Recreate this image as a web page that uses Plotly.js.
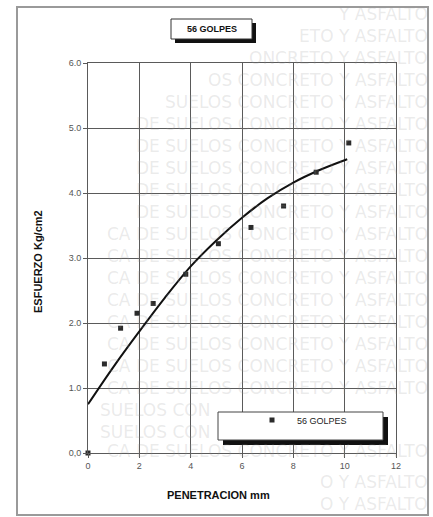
<!DOCTYPE html>
<html>
<head>
<meta charset="utf-8">
<script src="https://cdn.plot.ly/plotly-3.0.1.min.js"></script>
<style>
  html, body { margin: 0; padding: 0; background: #ffffff; }
  #chart { width: 433px; height: 517px; }
</style>
</head>
<body>
<div id="chart"></div>
<script>
// ---- data ----
const penetracion = [0, 0.64, 1.27, 1.91, 2.54, 3.81, 5.08, 6.35, 7.62, 8.89, 10.16];
const esfuerzo    = [0, 1.37, 1.92, 2.15, 2.30, 2.75, 3.22, 3.47, 3.80, 4.32, 4.77];

// trend curve as traced on the picture
const curvaX = [0, 1, 2, 3, 4, 5, 6, 7, 8, 9, 10.1];
const curvaY = [0.75, 1.33, 1.87, 2.39, 2.87, 3.27, 3.62, 3.92, 4.16, 4.35, 4.52];

const xTicks = [0, 2, 4, 6, 8, 10, 12];
const yTicks = [0, 1, 2, 3, 4, 5, 6];
const yTickText = ["0,0", "1.0", "2.0", "3.0", "4.0", "5.0", "6.0"];

const serieNombre = "56 GOLPES";
const tituloTexto = "56 GOLPES";
const ejeX = "PENETRACION mm";
const ejeY = "ESFUERZO Kg/cm2";
const marcaAgua = "MECANICA DE SUELOS CONCRETO Y ASFALTO";

// ---- layout helpers (pixel -> paper) ----
const W = 433, H = 517;
const M = { l: 88, r: 37, t: 63, b: 64 };
const PW = W - M.l - M.r, PH = H - M.t - M.b;
const px = x => (x - M.l) / PW;
const py = y => (H - M.b - y) / PH;

const FONT = "Arial, 'Liberation Sans', sans-serif";

const traces = [
  {
    x: curvaX, y: curvaY, type: "scatter", mode: "lines",
    line: { color: "#111111", width: 2, shape: "spline", smoothing: 1 },
    showlegend: false, hoverinfo: "skip"
  },
  {
    x: penetracion, y: esfuerzo, type: "scatter", mode: "markers",
    name: serieNombre, cliponaxis: false,
    marker: { symbol: "square", size: 5, color: "#2b2b2b" }
  }
];

const shapes = [
  // outer frame
  { type: "rect", xref: "paper", yref: "paper", x0: px(17), x1: px(428), y0: py(515), y1: py(7),
    line: { color: "#9a9a9a", width: 2 }, fillcolor: "rgba(0,0,0,0)", layer: "below" },
  // title box shadow + box
  { type: "rect", xref: "paper", yref: "paper", x0: px(175), x1: px(256), y0: py(43), y1: py(23),
    line: { width: 0 }, fillcolor: "#111111", layer: "above" },
  { type: "rect", xref: "paper", yref: "paper", x0: px(171), x1: px(252), y0: py(39), y1: py(19),
    line: { color: "#333333", width: 1 }, fillcolor: "#ffffff", layer: "above" },
  // legend box shadow + box
  { type: "rect", xref: "paper", yref: "paper", x0: px(223), x1: px(388), y0: py(445), y1: py(417),
    line: { width: 0 }, fillcolor: "#111111", layer: "above" },
  { type: "rect", xref: "paper", yref: "paper", x0: px(218), x1: px(383), y0: py(440), y1: py(412),
    line: { color: "#444444", width: 1 }, fillcolor: "#ffffff", layer: "above" }
];

// faint background watermark rows (as in the scanned reference),
// kept clear of the tick labels, titles and legend
const wmRows = [];
for (let i = 0; i < 18; i++) {
  const n = i < 5 ? Math.min(28, 9 + 4 * i) : (i < 10 ? 28 : 31);
  wmRows.push({ y: 14 + i * 22, right: 430, text: marcaAgua.slice(-n) });
}
wmRows.push({ y: 410, right: 212, text: marcaAgua.slice(12, 22) });
wmRows.push({ y: 432, right: 212, text: marcaAgua.slice(12, 22) });
wmRows.push({ y: 451, right: 430, text: marcaAgua.slice(-31) });
wmRows.push({ y: 482, right: 430, text: marcaAgua.slice(-11) });
wmRows.push({ y: 504, right: 430, text: marcaAgua.slice(-11) });

const annotations = wmRows.map(r => ({
  xref: "paper", yref: "paper", x: px(r.right), y: py(r.y),
  xanchor: "right", yanchor: "middle", showarrow: false,
  text: r.text,
  font: { family: "'DejaVu Sans', sans-serif", size: 17, color: "rgba(150,150,150,0.2)" }
}));
annotations.push(
  { xref: "paper", yref: "paper", x: px(211.5), y: py(29), showarrow: false,
    xanchor: "center", yanchor: "middle", text: "<b>" + tituloTexto + "</b>",
    font: { family: FONT, size: 9, color: "#111111" } },
  { xref: "paper", yref: "paper", x: px(218), y: py(495), showarrow: false,
    xanchor: "center", yanchor: "middle", text: "<b>" + ejeX + "</b>",
    font: { family: FONT, size: 11, color: "#111111" } },
  { xref: "paper", yref: "paper", x: px(38), y: py(262), showarrow: false,
    xanchor: "center", yanchor: "middle", textangle: -90, text: "<b>" + ejeY + "</b>",
    font: { family: FONT, size: 11, color: "#111111" } }
);

const axisCommon = {
  showgrid: true, gridcolor: "#5a5a5a", gridwidth: 1,
  showline: true, linecolor: "#5a5a5a", linewidth: 1, mirror: true,
  ticks: "outside", ticklen: 4, tickcolor: "#5a5a5a",
  tickfont: { family: FONT, size: 9, color: "#555555" },
  zeroline: false, fixedrange: true
};

const layout = {
  width: W, height: H,
  margin: M,
  paper_bgcolor: "#ffffff",
  plot_bgcolor: "rgba(255,255,255,0)",
  font: { family: FONT },
  xaxis: Object.assign({}, axisCommon, {
    range: [0, 12], tickvals: xTicks, ticktext: xTicks.map(String)
  }),
  yaxis: Object.assign({}, axisCommon, {
    range: [0, 6], tickvals: yTicks, ticktext: yTickText
  }),
  showlegend: true,
  legend: {
    x: px(247), y: py(420), xanchor: "left", yanchor: "middle",
    bgcolor: "rgba(0,0,0,0)", borderwidth: 0, itemwidth: 40,
    font: { family: FONT, size: 9, color: "#222222" }
  },
  shapes: shapes,
  annotations: annotations
};

Plotly.newPlot("chart", traces, layout, { displayModeBar: false, staticPlot: true });
</script>
</body>
</html>
